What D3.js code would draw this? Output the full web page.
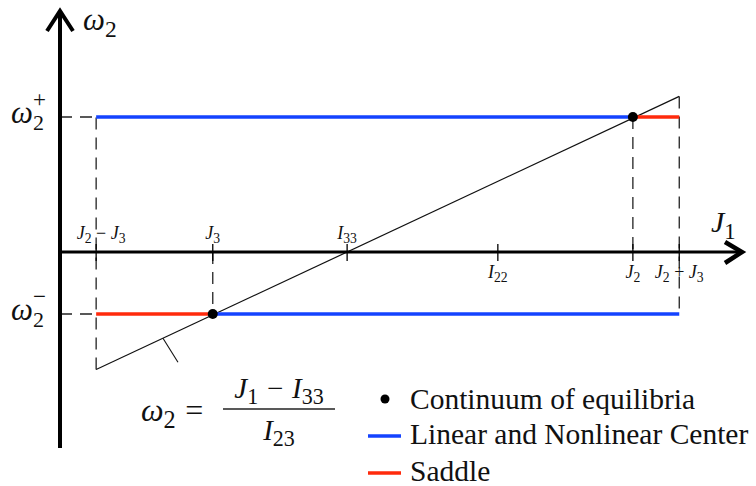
<!DOCTYPE html>
<html>
<head>
<meta charset="utf-8">
<script src="https://cdn.jsdelivr.net/npm/d3@7"></script>
<style>
  html, body { margin: 0; padding: 0; background: #fff; }
  svg text, svg tspan { font-family: "Liberation Serif" !important; }
</style>
</head>
<body>
<script>
// abstract values (J1 along x, omega2 along y)
const tickLabels = ["J2 − J3", "J3", "I33", "I22", "J2", "J2 + J3"];
const tickValues = [0.53, 2.24, 4.21, 6.42, 8.40, 9.08];
const tickAbove = [true, true, true, false, false, false];
const omegaSigns = ["+", "−"];
const omegaValues = [1.35, -0.62];
const I33 = 4.21;
const I23 = 3.13;
const legendLabels = ["Continuum of equilibria", "Linear and Nonlinear Center", "Saddle"];

const J2mJ3 = tickValues[0], J3 = tickValues[1], J2 = tickValues[4], J2pJ3 = tickValues[5];
const wPlus = omegaValues[0], wMinus = omegaValues[1];
const omegaLine = j => (j - I33) / I23;

// stability segments
const segFrom = [J2mJ3, J2, J2mJ3, J3];
const segTo = [J2, J2pJ3, J3, J2pJ3];
const segOmega = [wPlus, wPlus, wMinus, wMinus];
const segKind = ["center", "saddle", "saddle", "center"];
const equilibria = [[J2, wPlus], [J3, wMinus]];

const colors = { center: "#1443ff", saddle: "#ff2a0c" };
const fontName = "Liberation Serif";

const svg = d3.select("body").append("svg")
  .attr("width", 756)
  .attr("height", 486);

const x = d3.scaleLinear().domain([0, 10]).range([60, 742]);
const y = d3.scaleLinear().domain([-1.96, 2.42]).range([448, 10]);

function mathText(px, py, size, anchor) {
  return svg.append("text")
    .attr("x", px).attr("y", py)
    .attr("text-anchor", anchor || "start")
    .style("font-family", `"${fontName}"`)
    .style("font-size", size + "px")
    .attr("fill", "#111");
}

// write "J2 − J3" style math into a text element
function addMath(text, str, size, opPad) {
  const padOp = size * (opPad || 0.22);
  let shift = 0, pad = 0;
  str.split(" ").forEach(tok => {
    if (/^[−+=]$/.test(tok)) {
      text.append("tspan").attr("font-style", "normal")
        .attr("dx", padOp).attr("dy", -shift).text(tok);
      shift = 0;
      pad = padOp;
    } else {
      const m = tok.match(/^(\D)(\d*)$/);
      text.append("tspan").attr("font-style", "italic")
        .attr("dx", pad).attr("dy", -shift).text(m[1]);
      shift = 0;
      pad = 0;
      if (m[2]) {
        shift = size * 0.22;
        text.append("tspan").attr("font-style", "normal")
          .style("font-size", (size * 0.76) + "px").attr("dy", shift).text(m[2]);
      }
    }
  });
  return text;
}

// dashed guides
const dashed = [
  [J2mJ3, omegaLine(J2mJ3), J2mJ3, wPlus],
  [J2pJ3, omegaLine(J2pJ3), J2pJ3, wMinus],
  [J2, wPlus, J2, 0],
  [J3, 0, J3, wMinus],
  [0, wPlus, J2mJ3, wPlus],
  [0, wMinus, J2mJ3, wMinus]
];
svg.append("g").selectAll("line")
  .data(dashed)
  .enter()
  .append("line")
  .attr("x1", d => x(d[0])).attr("y1", d => y(d[1]))
  .attr("x2", d => x(d[2])).attr("y2", d => y(d[3]))
  .attr("stroke", "#222")
  .attr("stroke-width", 1.3)
  .attr("stroke-dasharray", "12,8");

// diagonal omega2 = (J1 - I33)/I23
svg.append("line")
  .attr("x1", x(J2mJ3)).attr("y1", y(omegaLine(J2mJ3)))
  .attr("x2", x(J2pJ3)).attr("y2", y(omegaLine(J2pJ3)))
  .attr("stroke", "#111")
  .attr("stroke-width", 1.2);

// leader tick from the diagonal to the formula
const leadAt = 1.51;
svg.append("line")
  .attr("x1", x(leadAt)).attr("y1", y(omegaLine(leadAt)))
  .attr("x2", x(leadAt) + 15).attr("y2", y(omegaLine(leadAt)) + 24)
  .attr("stroke", "#111")
  .attr("stroke-width", 1.1);

// coloured stability segments
svg.append("g").selectAll("line")
  .data(segKind)
  .enter()
  .append("line")
  .attr("x1", (d, i) => x(segFrom[i]))
  .attr("x2", (d, i) => x(segTo[i]))
  .attr("y1", (d, i) => y(segOmega[i]))
  .attr("y2", (d, i) => y(segOmega[i]))
  .attr("stroke", d => colors[d])
  .attr("stroke-width", 3.5);

// axes
const axisG = svg.append("g").attr("stroke", "#000").attr("fill", "none");
axisG.append("line")
  .attr("x1", x(0)).attr("x2", x(0))
  .attr("y1", y.range()[0]).attr("y2", y.range()[1] + 1)
  .attr("stroke-width", 4);
axisG.append("line")
  .attr("x1", x(0)).attr("x2", x.range()[1] - 1)
  .attr("y1", y(0)).attr("y2", y(0))
  .attr("stroke-width", 3);
axisG.append("path")
  .attr("d", `M${x(0) - 13},${y.range()[1] + 21} L${x(0)},${y.range()[1] + 1} L${x(0) + 13},${y.range()[1] + 21}`)
  .attr("stroke-width", 4).attr("stroke-linejoin", "miter");
axisG.append("path")
  .attr("d", `M${x.range()[1] - 17},${y(0) - 10} L${x.range()[1]},${y(0)} L${x.range()[1] - 17},${y(0) + 11}`)
  .attr("stroke-width", 4.5).attr("stroke-linejoin", "miter");

// x ticks
svg.append("g").selectAll("line")
  .data(tickValues)
  .enter()
  .append("line")
  .attr("x1", d => x(d)).attr("x2", d => x(d))
  .attr("y1", y(0) - 8).attr("y2", y(0) + 9)
  .attr("stroke", "#000")
  .attr("stroke-width", 1.3);

tickLabels.forEach((lab, i) => {
  const t = mathText(x(tickValues[i]) + (i === 0 ? 5 : 0), tickAbove[i] ? y(0) - 13 : y(0) + 26, 18, "middle");
  addMath(t, lab, 18, 0.25);
});

// axis titles
addMath(mathText(83, 30, 31), "ω2", 31);
addMath(mathText(711, 232, 30), "J1", 30);

// omega2 +/- labels on the y axis
omegaValues.forEach((v, i) => {
  const t = mathText(11, y(v) + 6, 31);
  t.append("tspan").attr("font-style", "italic").text("ω");
  t.append("tspan").style("font-size", "22px").attr("dy", 7).text("2");
  t.append("tspan").style("font-size", "23px").attr("dx", -11).attr("dy", -23).text(omegaSigns[i]);
});

// equilibrium points
svg.append("g").selectAll("circle")
  .data(equilibria)
  .enter()
  .append("circle")
  .attr("cx", d => x(d[0]))
  .attr("cy", d => y(d[1]))
  .attr("r", 5)
  .attr("fill", "#000");

// formula
addMath(mathText(141, 421, 32), "ω2 =", 32, 0.3);
addMath(mathText(279, 398, 29, "middle"), "J1 − I33", 29, 0.3);
svg.append("line")
  .attr("x1", 223).attr("x2", 335).attr("y1", 409).attr("y2", 409)
  .attr("stroke", "#222").attr("stroke-width", 1.3);
addMath(mathText(279, 440, 29, "middle"), "I23", 29);

// legend
const legend = svg.append("g").attr("transform", "translate(368,399)");
legendLabels.forEach((lab, i) => {
  const g = legend.append("g").attr("transform", `translate(0,${i * 37})`);
  if (i === 0) {
    g.append("circle").attr("cx", 17).attr("cy", 0).attr("r", 4.5).attr("fill", "#000");
  } else {
    g.append("line").attr("x1", 0).attr("x2", 33).attr("y1", 0).attr("y2", 0)
      .attr("stroke", i === 1 ? colors.center : colors.saddle)
      .attr("stroke-width", 3.5);
  }
  g.append("text")
    .attr("x", 42).attr("y", i === 0 ? 10 : 8)
    .style("font-family", `"${fontName}"`)
    .style("font-size", "29.5px")
    .attr("fill", "#111")
    .text(lab);
});
</script>
</body>
</html>
